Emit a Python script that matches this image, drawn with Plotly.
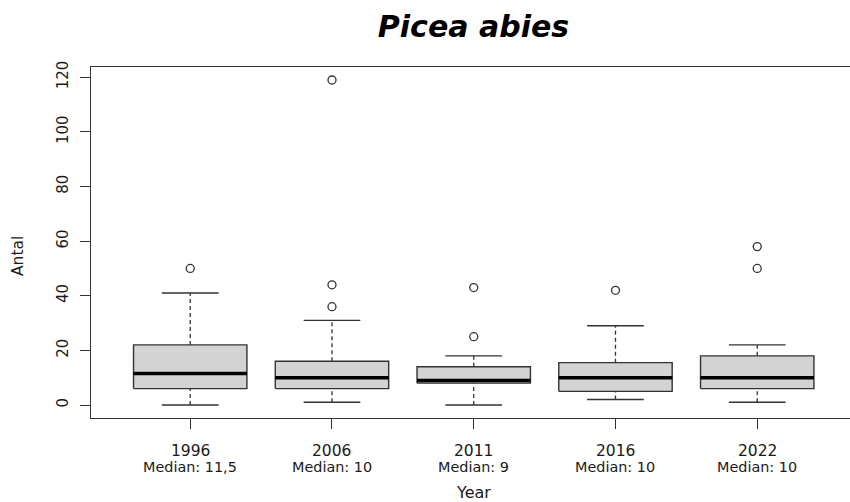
import plotly.graph_objects as go

# Five-number summaries of the count ("Antal") per survey year
years = ["1996", "2006", "2011", "2016", "2022"]
q1 = [6, 6, 8, 5, 6]
medians = [11.5, 10, 9, 10, 10]
q3 = [22, 16, 14, 15.5, 18]
lower_whisker = [0, 1, 0, 2, 1]
upper_whisker = [41, 31, 18, 29, 22]
outliers = [[50], [36, 44, 119], [25, 43], [42], [50, 58]]

y_ticks = [0, 20, 40, 60, 80, 100, 120]

BOX_HALF = 0.4
CAP_HALF = 0.2
LINE_COL = "#333333"
TEXT_COL = "#1a1a1a"
FONT = "DejaVu Sans, Liberation Sans, Arial, sans-serif"

# plot area geometry (pixels)
W, H = 850, 502
L, T, B = 91, 67, 84
PLOT_W = W - L
PLOT_H = H - T - B


def paper_x(px):
    return (px - L) / PLOT_W


def paper_y(px):
    return (H - B - px) / PLOT_H


pos = list(range(1, len(years) + 1))

fig = go.Figure()

# whiskers (dashed) and caps
wx, wy, cx, cy = [], [], [], []
for p, lo, a, b, hi in zip(pos, lower_whisker, q1, q3, upper_whisker):
    wx += [p, p, None, p, p, None]
    wy += [lo, a, None, b, hi, None]
    cx += [p - CAP_HALF, p + CAP_HALF, None, p - CAP_HALF, p + CAP_HALF, None]
    cy += [lo, lo, None, hi, hi, None]
fig.add_trace(go.Scatter(x=wx, y=wy, mode="lines",
                         line=dict(color=LINE_COL, width=1.3, dash="4px,3px")))
fig.add_trace(go.Scatter(x=cx, y=cy, mode="lines",
                         line=dict(color=LINE_COL, width=1.4)))

# boxes
for p, a, b in zip(pos, q1, q3):
    fig.add_trace(go.Scatter(
        x=[p - BOX_HALF, p + BOX_HALF, p + BOX_HALF, p - BOX_HALF, p - BOX_HALF],
        y=[a, a, b, b, a], mode="lines", fill="toself",
        fillcolor="#d3d3d3", line=dict(color=LINE_COL, width=1.4)))

# medians
mx, my = [], []
for p, m in zip(pos, medians):
    mx += [p - BOX_HALF, p + BOX_HALF, None]
    my += [m, m, None]
fig.add_trace(go.Scatter(x=mx, y=my, mode="lines",
                         line=dict(color="black", width=3.5)))

# outliers
ox, oy = [], []
for p, vals in zip(pos, outliers):
    for v in vals:
        ox.append(p)
        oy.append(v)
fig.add_trace(go.Scatter(x=ox, y=oy, mode="markers",
                         marker=dict(symbol="circle-open", size=8,
                                     color=LINE_COL, line=dict(width=1.3))))


def fmt(v):
    return f"{v:g}".replace(".", ",")


annotations = []
# year labels and median notes under each box
for p, y, m in zip(pos, years, medians):
    annotations.append(dict(x=p, xref="x", y=paper_y(451), yref="paper",
                            text=y, showarrow=False, yanchor="middle",
                            font=dict(family=FONT, size=15.5, color=TEXT_COL)))
    annotations.append(dict(x=p, xref="x", y=paper_y(467), yref="paper",
                            text=f"Median: {fmt(m)}", showarrow=False,
                            yanchor="middle",
                            font=dict(family=FONT, size=14.4, color=TEXT_COL)))
# axis titles
annotations.append(dict(x=paper_x(473.5), xref="paper", y=paper_y(492), yref="paper",
                        text="Year", showarrow=False, yanchor="middle",
                        font=dict(family=FONT, size=16, color=TEXT_COL)))
annotations.append(dict(x=paper_x(18), xref="paper", y=paper_y(256), yref="paper",
                        text="Antal", showarrow=False, textangle=-90,
                        xanchor="center", yanchor="middle",
                        font=dict(family=FONT, size=15.5, color=TEXT_COL)))

fig.update_layout(
    width=W, height=H,
    margin=dict(l=L, r=0, t=T, b=B),
    paper_bgcolor="white", plot_bgcolor="white",
    showlegend=False,
    annotations=annotations,
    title=dict(text="<b><i>Picea abies</i></b>", x=473.5 / W, xanchor="center",
               y=1 - 26 / H, yanchor="middle",
               font=dict(family=FONT, size=30, color="black")),
    xaxis=dict(range=[0.3, 0.3 + PLOT_W / 141.75], tickmode="array",
               tickvals=pos, showticklabels=False,
               showline=True, mirror=True, linecolor=LINE_COL, linewidth=1.4,
               ticks="outside", ticklen=10, tickcolor=LINE_COL, tickwidth=1.4,
               showgrid=False, zeroline=False),
    yaxis=dict(range=[-4.76, 123.76], tickmode="array", tickvals=y_ticks,
               showline=True, linecolor=LINE_COL, linewidth=1.4,
               ticks="outside", ticklen=10, tickcolor=LINE_COL, tickwidth=1.4,
               tickangle=-90, ticklabelstandoff=6,
               showgrid=False, zeroline=False,
               tickfont=dict(family=FONT, size=15, color=TEXT_COL)),
)

fig.write_html("out.html")
